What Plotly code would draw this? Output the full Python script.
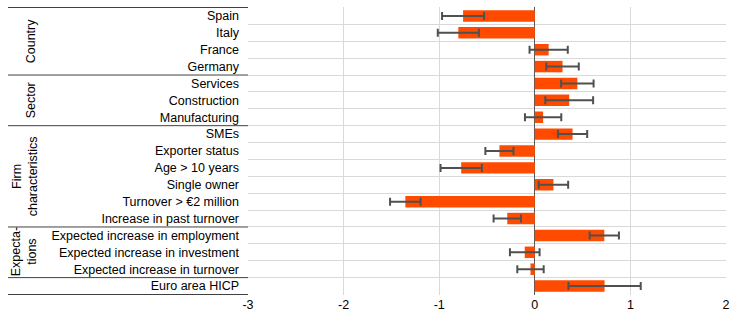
import plotly.graph_objects as go

categories = ["Spain", "Italy", "France", "Germany",
              "Services", "Construction", "Manufacturing",
              "SMEs", "Exporter status", "Age > 10 years", "Single owner",
              "Turnover > €2 million", "Increase in past turnover",
              "Expected increase in employment", "Expected increase in investment",
              "Expected increase in turnover", "Euro area HICP"]
values = [-0.75, -0.80, 0.145, 0.29,
          0.445, 0.36, 0.087,
          0.395, -0.37, -0.77, 0.195, -1.354, -0.288,
          0.727, -0.105, -0.045, 0.73]
errors = [0.22, 0.215, 0.20, 0.17,
          0.17, 0.25, 0.19,
          0.153, 0.147, 0.216, 0.154, 0.16, 0.143,
          0.153, 0.155, 0.138, 0.378]
x_ticks = [-3, -2, -1, 0, 1, 2]
x_tick_text = ["-3", "-2", "-1", "0", "1", "2"]

# groups: (label, first index, last index, x pixel center)
groups = [("Country", 0, 3, 31), ("Sector", 4, 6, 31),
          ("Firm<br>characteristics", 7, 12, 25),
          ("Expecta-<br>tions", 13, 15, 24)]
group_bounds = [-0.5, 3.5, 6.5, 12.5, 15.5, 16.5]

FONT = "Liberation Sans, Arial, sans-serif"
FS = 12.5
W, H = 744, 322
L, R, T, B = 248, 18, 7, 27
pw = W - L - R

fig = go.Figure()
fig.add_trace(go.Bar(
    y=categories, x=values, orientation="h",
    marker=dict(color="#FF4B00", line=dict(width=0)),
    error_x=dict(type="data", array=errors, symmetric=True,
                 color="#505050", thickness=2, width=4),
    showlegend=False,
))

shapes = []
for b in group_bounds:
    shapes.append(dict(type="line", xref="paper", yref="y",
                       x0=(8 - L) / pw, x1=0, y0=b, y1=b,
                       line=dict(color="#404040", width=1)))

annotations = []
for label, i0, i1, px in groups:
    annotations.append(dict(text=label, xref="paper", yref="y",
                            x=(px - L) / pw, y=(i0 + i1) / 2,
                            textangle=-90, showarrow=False,
                            xanchor="center", yanchor="middle",
                            font=dict(family=FONT, size=FS, color="#000000")))

fig.update_layout(
    width=W, height=H,
    margin=dict(l=L, r=R, t=T, b=B, pad=0),
    paper_bgcolor="white", plot_bgcolor="white",
    bargap=0.32,
    font=dict(family=FONT, size=FS, color="#000000"),
    shapes=shapes, annotations=annotations,
    xaxis=dict(range=[-3, 2], tickvals=x_ticks, ticktext=x_tick_text,
               showgrid=True, gridcolor="#D9D9D9", gridwidth=1,
               zeroline=True, zerolinecolor="#595959", zerolinewidth=1,
               showline=False, ticks="", tickfont=dict(size=FS)),
    yaxis=dict(autorange="reversed", type="category",
               tickson="boundaries", showgrid=True, gridcolor="#D9D9D9",
               gridwidth=1, ticks="", ticklabelstandoff=8,
               showline=False, tickfont=dict(size=FS)),
)

fig.write_html("out.html")
